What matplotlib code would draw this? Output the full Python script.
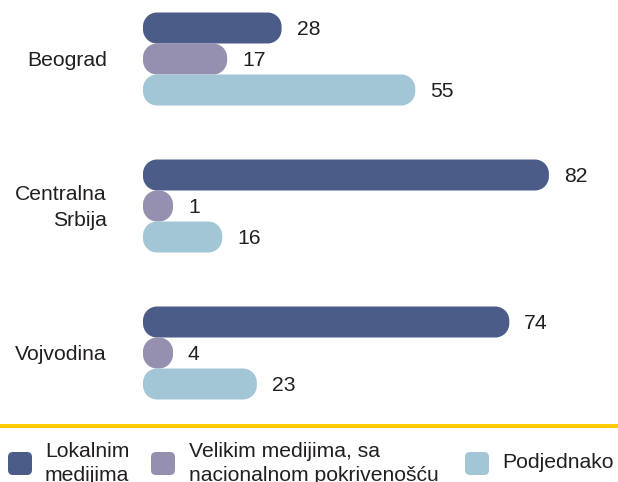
import matplotlib
matplotlib.use("Agg")
import matplotlib.pyplot as plt
import numpy as np
from matplotlib.path import Path
from matplotlib.patches import FancyBboxPatch, PathPatch

plt.rcParams["font.family"] = ["Liberation Sans", "DejaVu Sans"]

# Data
regions = ["Beograd", "Centralna\nSrbija", "Vojvodina"]
series = ["Lokalnim\nmedijima", "Velikim medijima, sa\nnacionalnom pokrivenošću", "Podjednako"]
lokalni = [28, 82, 74]
veliki = [17, 1, 4]
podjednako = [55, 16, 23]

colors = ["#4a5c87", "#9690b0", "#a3c6d6"]
text_color = "#231f20"
FS = 15.2

# Layout (pixels, 100 dpi)
W, H = 618, 482
X0 = 143          # left edge of all bars
PX_PER_UNIT = 4.95
BAR_H = 31
CORNER = 14       # corner radius, px
GROUP_TOP = 59
GROUP_STEP = 147


def rounded_bar(w, yc, h, color):
    """Rounded rectangle from x=0 to x=w (value units), centred on yc (px units)."""
    rx = min(CORNER / PX_PER_UNIT, w / 2)
    ry = CORNER
    y0, y1 = yc - h / 2, yc + h / 2
    corners = [((w - rx, y1 - ry), 0, 90), ((rx, y1 - ry), 90, 180),
               ((rx, y0 + ry), 180, 270), ((w - rx, y0 + ry), 270, 360)]
    verts, codes = [], []
    for (cx, cy), t1, t2 in corners:
        arc = Path.arc(t1, t2)
        v = arc.vertices * [rx, ry] + [cx, cy]
        c = arc.codes.copy()
        if verts:
            c[0] = Path.LINETO
        verts.extend(v)
        codes.extend(c)
    verts.append(verts[0])
    codes.append(Path.CLOSEPOLY)
    return PathPatch(Path(np.array(verts), codes), fc=color, ec="none", zorder=2)


fig = plt.figure(figsize=(W / 100, H / 100), dpi=100)
ax = fig.add_axes([0, 0, 1, 1])
ax.set_xlim(-X0 / PX_PER_UNIT, (W - X0) / PX_PER_UNIT)
ax.set_ylim(H, 0)
ax.axis("off")

min_w = (BAR_H - 1) / PX_PER_UNIT

for i, region in enumerate(regions):
    yc = GROUP_TOP + i * GROUP_STEP
    vals = [lokalni[i], veliki[i], podjednako[i]]
    for j, v in enumerate(vals):
        y = yc + (j - 1) * BAR_H
        w = max(v, min_w)
        ax.add_patch(rounded_bar(w, y, BAR_H, colors[j]))
        ax.annotate(str(v), xy=(w, y), xytext=(15, -7),
                    textcoords="offset pixels", ha="left", va="baseline",
                    fontsize=FS, color=text_color)
    # region label, right aligned, one text per line
    lines = region.split("\n")
    n = len(lines)
    for k, line in enumerate(lines):
        dy = -7 - (k - (n - 1) / 2) * 25
        ax.annotate(line, xy=(0, yc), xytext=(-36, dy), textcoords="offset pixels",
                    ha="right", va="baseline", fontsize=FS, color=text_color)

# Overlay for separator and legend, in pixel units
lax = fig.add_axes([0, 0, 1, 1])
lax.set_xlim(0, W)
lax.set_ylim(H, 0)
lax.axis("off")
lax.axhline(426, color="#fecb00", lw=4 * 0.72)

sq_x = [8, 151, 465]
txt_x = [45, 189, 502]
for j, label in enumerate(series):
    lax.add_patch(FancyBboxPatch((sq_x[j], 452), 24, 23,
                                 boxstyle="round,pad=0,rounding_size=5",
                                 fc=colors[j], ec="none"))
    lines = label.split("\n")
    base = 457 if len(lines) > 1 else 468
    for k, line in enumerate(lines):
        lax.text(txt_x[j], base + k * 24, line, ha="left", va="baseline",
                 fontsize=FS, color=text_color)

fig.savefig("out.png", dpi=100)
